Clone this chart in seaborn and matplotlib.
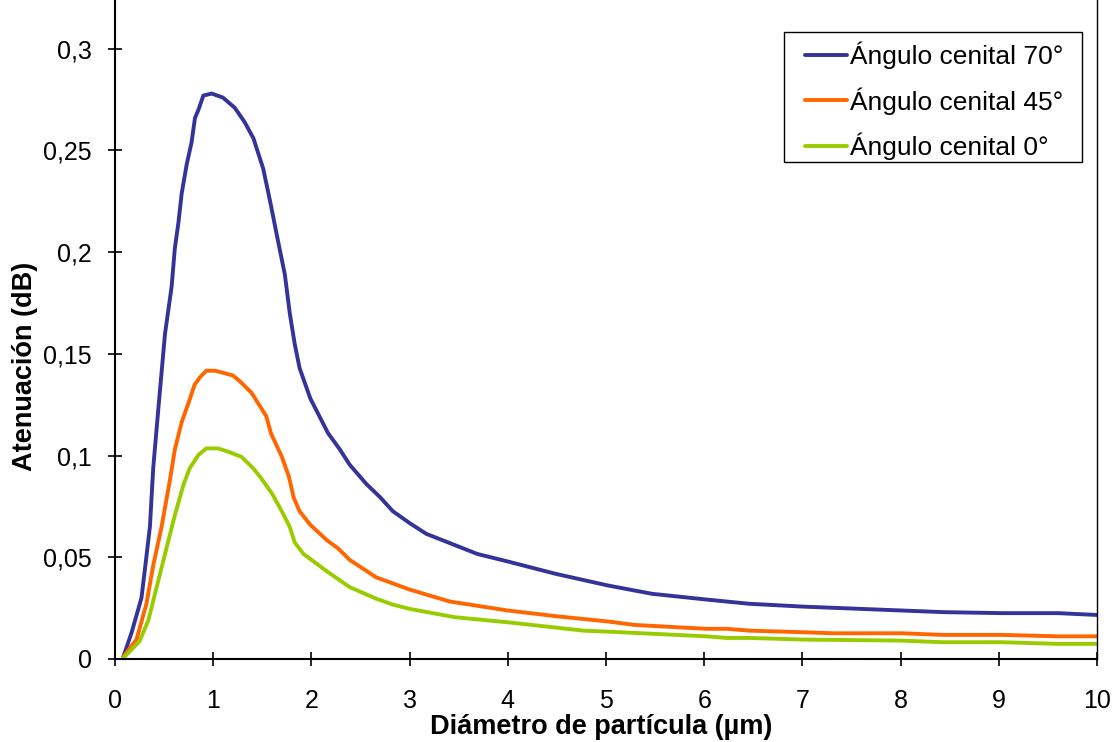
import numpy as np
import pandas as pd
import matplotlib
matplotlib.use("Agg")
import matplotlib.pyplot as plt
from matplotlib.legend_handler import HandlerLine2D
from matplotlib.lines import Line2D
from matplotlib.patches import Rectangle
import seaborn as sns

# --- data ---
x_70 = [0.085, 0.17, 0.27, 0.305, 0.356, 0.39, 0.44, 0.51, 0.577, 0.61, 0.645, 0.68,
        0.73, 0.78, 0.815, 0.85, 0.90, 0.985, 1.10, 1.22, 1.32, 1.41, 1.51, 1.58,
        1.65, 1.73, 1.78, 1.83, 1.88, 1.99, 2.17, 2.29, 2.39, 2.56, 2.70, 2.83, 3.0,
        3.17, 3.69, 4.0, 4.49, 5.02, 5.47, 6.02, 6.23, 6.46, 7.01, 8.01, 8.43, 9.03,
        9.6, 10.0]
y_70 = [0.001, 0.013, 0.030, 0.044, 0.065, 0.094, 0.122, 0.160, 0.183, 0.202, 0.214, 0.229,
        0.243, 0.254, 0.266, 0.270, 0.277, 0.278, 0.276, 0.271, 0.264, 0.256, 0.241, 0.225,
        0.208, 0.189, 0.170, 0.155, 0.143, 0.128, 0.111, 0.103, 0.0955, 0.086, 0.0795, 0.0726, 0.0668,
        0.0615, 0.0516, 0.0479, 0.0418, 0.0361, 0.0320, 0.0292, 0.0282, 0.0271, 0.0257, 0.0238, 0.0230, 0.0225,
        0.0225, 0.0216]

x_45 = [0.085, 0.22, 0.32, 0.39, 0.475, 0.56, 0.61, 0.68, 0.75, 0.81, 0.865, 0.93, 1.02,
        1.2, 1.27, 1.39, 1.54, 1.59, 1.70, 1.77, 1.82, 1.88, 1.99, 2.16, 2.27, 2.39,
        2.66, 3.0, 3.41, 4.0, 4.49, 5.02, 5.29, 6.02, 6.23, 6.46, 7.01, 7.31, 8.01,
        8.43, 9.03, 9.6, 10.0]
y_45 = [0.001, 0.0096, 0.027, 0.046, 0.065, 0.088, 0.103, 0.1165, 0.126, 0.1347, 0.1385, 0.1417, 0.1417,
        0.1394, 0.1366, 0.1309, 0.1194, 0.1108, 0.0993, 0.0898, 0.0793, 0.0726, 0.0659, 0.0583, 0.0544, 0.0487,
        0.0401, 0.0341, 0.0282, 0.0238, 0.0210, 0.0184, 0.0167, 0.0148, 0.0148, 0.0139, 0.0131, 0.0126, 0.0126,
        0.0118, 0.0118, 0.0111, 0.0111]

x_0 = [0.085, 0.25, 0.34, 0.41, 0.51, 0.61, 0.70, 0.76, 0.85, 0.93, 1.05, 1.17, 1.29,
       1.41, 1.49, 1.60, 1.71, 1.78, 1.83, 1.92, 2.16, 2.39, 2.66, 2.83, 3.0, 3.46,
       4.0, 4.77, 5.02, 6.02, 6.23, 6.46, 7.01, 8.01, 8.43, 9.03, 9.6, 10.0]
y_0 = [0.0004, 0.0086, 0.019, 0.0325, 0.0516, 0.0707, 0.086, 0.0936, 0.1003, 0.1035, 0.1035, 0.1016, 0.0993,
       0.0936, 0.0888, 0.0812, 0.0716, 0.0649, 0.0573, 0.0516, 0.043, 0.0353, 0.0296, 0.0267, 0.0246, 0.0205,
       0.0180, 0.0139, 0.0134, 0.0111, 0.0103, 0.0103, 0.0095, 0.0090, 0.0082, 0.0082, 0.0074, 0.0074]

series = ["Ángulo cenital 70°", "Ángulo cenital 45°", "Ángulo cenital 0°"]
colors = ["#333399", "#FF6600", "#99CC00"]
xticks = list(range(0, 11))
yticks = [0, 0.05, 0.1, 0.15, 0.2, 0.25, 0.3]
ytick_labels = ["0", "0,05", "0,1", "0,15", "0,2", "0,25", "0,3"]

df = pd.concat([
    pd.DataFrame({"d": x_70, "att": y_70, "serie": series[0]}),
    pd.DataFrame({"d": x_45, "att": y_45, "serie": series[1]}),
    pd.DataFrame({"d": x_0, "att": y_0, "serie": series[2]}),
], ignore_index=True)

sns.set_style("white")
plt.rcParams["font.family"] = ["Liberation Sans", "DejaVu Sans"]
plt.rcParams["text.color"] = "black"
plt.rcParams["axes.labelcolor"] = "black"

fig = plt.figure(figsize=(11.16, 7.42), dpi=100)
ax = fig.add_axes([0.103, 0.112, 0.880, 0.888])

sns.lineplot(data=df, x="d", y="att", hue="serie", hue_order=series,
             palette=colors, linewidth=2.8, sort=False, estimator=None, ax=ax)

ax.set_xlim(0, 10)
ax.set_ylim(0, 0.324)
ax.set_xticks(xticks)
ax.set_yticks(yticks)
ax.set_yticklabels(ytick_labels)
ax.tick_params(axis="both", direction="inout", length=10, width=1.2, labelsize=18,
               colors="black", left=True, bottom=True)
ax.tick_params(axis="x", pad=17)
ax.tick_params(axis="y", pad=11.5)

for side in ["left", "bottom", "right"]:
    ax.spines[side].set_visible(True)
    ax.spines[side].set_color("black")
ax.spines["left"].set_linewidth(1.5)
ax.spines["bottom"].set_linewidth(1.5)
ax.spines["right"].set_linewidth(1.0)
ax.spines["top"].set_visible(False)

ax.set_xlabel("Diámetro de partícula (µm)", fontsize=19.5, fontweight="bold", va="center")
ax.set_ylabel("Atenuación (dB)", fontsize=19.5, fontweight="bold", va="center")
ax.xaxis.set_label_coords(0.495, -0.103)
ax.yaxis.set_label_coords(-0.0917, 0.444)

# legend entries, frame drawn separately so it can carry the wider right margin
handles, labels = ax.get_legend_handles_labels()
leg = ax.legend(handles, labels, loc="upper right", bbox_to_anchor=(0.9725, 0.947),
                borderaxespad=0, fontsize=19, frameon=False,
                handlelength=2.14, handletextpad=0.12, borderpad=0.25, labelspacing=0.69,
                handler_map={Line2D: HandlerLine2D(xpad=0.55)})
for line in leg.get_lines():
    line.set_linewidth(2.8)
ax.add_patch(Rectangle((0.681, 0.754), 0.3037, 0.1975, transform=ax.transAxes,
                       fill=False, edgecolor="black", linewidth=1.0, zorder=5))

fig.savefig("out.png", dpi=100)
